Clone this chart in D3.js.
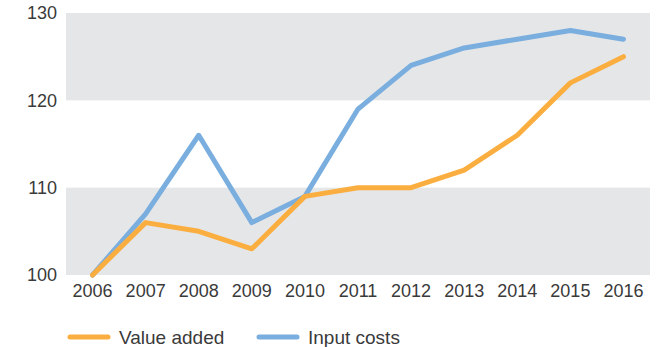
<!DOCTYPE html>
<html>
<head>
<meta charset="utf-8">
<script src="https://cdn.jsdelivr.net/npm/d3@7"></script>
<style>
  html, body { margin: 0; padding: 0; background: #fff; }
  svg { display: block; font-family: "Liberation Sans", Arial, Helvetica, sans-serif; }
</style>
</head>
<body>
<svg id="chart" width="664" height="347"></svg>
<script>
const years = ["2006","2007","2008","2009","2010","2011","2012","2013","2014","2015","2016"];
const valueAdded = [100, 106, 105, 103, 109, 110, 110, 112, 116, 122, 125];
const inputCosts = [100, 107, 116, 106, 109, 119, 124, 126, 127, 128, 127];
const yTicks = [100, 110, 120, 130];
const seriesNames = ["Value added", "Input costs"];
const seriesColors = ["#FBAE40", "#7AAEDE"];

const svg = d3.select("#chart");
const plotLeft = 66, plotRight = 650, plotTop = 13, plotBottom = 275;
const textColor = "#3a3a3a";

const x = d3.scaleBand().domain(years).range([plotLeft, plotRight]).padding(0);
const y = d3.scaleLinear().domain([100, 130]).range([plotBottom, plotTop]);

// alternating background bands
const bands = [[100, 110], [120, 130]];
svg.append("g").selectAll("rect").data(bands).join("rect")
  .attr("x", plotLeft).attr("width", plotRight - plotLeft)
  .attr("y", d => y(d[1])).attr("height", d => y(d[0]) - y(d[1]))
  .attr("fill", "#E5E6E8");

// y axis labels
const yAxis = svg.append("g").attr("transform", `translate(${plotLeft - 9},0)`)
  .call(d3.axisLeft(y).tickValues(yTicks).tickSize(0).tickPadding(0));
yAxis.select(".domain").remove();
yAxis.selectAll("text").attr("font-size", 18).attr("fill", textColor).attr("font-family", "Liberation Sans, Arial, sans-serif");

// x axis labels
const xAxis = svg.append("g").attr("transform", `translate(0,${plotBottom + 9})`)
  .call(d3.axisBottom(x).tickSize(0).tickPadding(0));
xAxis.select(".domain").remove();
xAxis.selectAll("text").attr("font-size", 18).attr("fill", textColor).attr("font-family", "Liberation Sans, Arial, sans-serif");

// series lines
const line = d3.line().x((d, i) => x(years[i]) + x.bandwidth() / 2).y(d => y(d));
const series = [valueAdded, inputCosts];
// input costs drawn underneath value added
[1, 0].forEach(i => {
  svg.append("path").datum(series[i])
    .attr("d", line)
    .attr("fill", "none")
    .attr("stroke", seriesColors[i])
    .attr("stroke-width", 5)
    .attr("stroke-linejoin", "round")
    .attr("stroke-linecap", "round");
});

// legend
const legendX = [70, 259];
const legend = svg.append("g").selectAll("g").data(seriesNames).join("g")
  .attr("transform", (d, i) => `translate(${legendX[i]},337)`);
legend.append("line").attr("x1", 0).attr("x2", 38).attr("y1", 0).attr("y2", 0)
  .attr("stroke", (d, i) => seriesColors[i]).attr("stroke-width", 5).attr("stroke-linecap", "round");
legend.append("text").attr("x", 49).attr("y", 0).attr("dy", "0.35em")
  .attr("font-size", 19).attr("fill", textColor).text(d => d);
</script>
</body>
</html>
